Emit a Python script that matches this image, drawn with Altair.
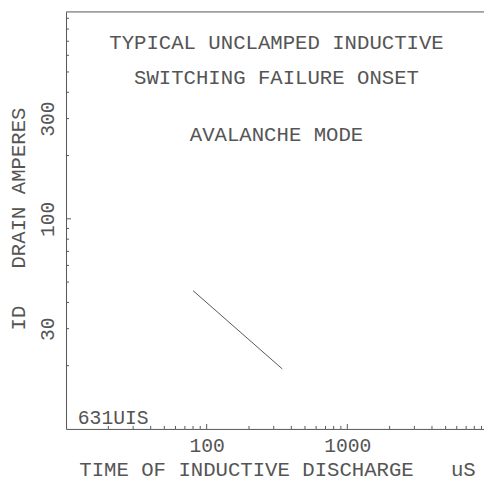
import altair as alt
import pandas as pd

# ---- data ----
time_us = [80, 345]
drain_amps = [45.5, 19.3]

x_minor_ticks = [20, 30, 40, 50, 60, 70, 80, 90,
                 200, 300, 400, 500, 600, 700, 800, 900,
                 2000, 3000, 4000, 5000, 6000, 7000, 8000, 9000]
x_major_ticks = [100, 1000]
y_minor_ticks = [20, 30, 40, 50, 60, 70, 80, 90,
                 200, 300, 400, 500, 600, 700, 800, 900]
y_major_ticks = [100]
x_labels = [100, 1000]
y_labels = [30, 100, 300]

NB = "\u00a0"
title_lines = ["TYPICAL UNCLAMPED INDUCTIVE", "SWITCHING FAILURE ONSET", "AVALANCHE MODE"]
corner_label = "631UIS"
x_title = "TIME OF INDUCTIVE DISCHARGE" + NB * 3 + "uS"
y_title = "ID" + NB * 3 + "DRAIN AMPERES"

FONT = "Liberation Mono"
INK = "#555555"
LINE = "#555555"
W, H = 425, 424

xscale = alt.Scale(type="log", domain=[10, 9376], nice=False)
yscale = alt.Scale(type="log", domain=[10, 965], nice=False)

xaxis = alt.Axis(
    values=x_labels, ticks=False, tickSize=0, grid=False, format="d",
    domainColor=LINE, domainWidth=1,
    labelFont=FONT, labelFontSize=20, labelColor=INK,
    labelBaseline="alphabetic", labelPadding=23,
    title=x_title,
    titleFont=FONT, titleFontSize=21, titleFontWeight="normal", titleColor=INK,
    titleAlign="left", titleBaseline="alphabetic", titleX=13, titleY=47,
)
yaxis = alt.Axis(
    values=y_labels, ticks=False, tickSize=0, grid=False, format="d",
    domainColor=LINE, domainWidth=1,
    labelFont=FONT, labelFontSize=20, labelColor=INK,
    labelAngle=270, labelAlign="center", labelBaseline="alphabetic", labelPadding=13,
    title=y_title,
    titleFont=FONT, titleFontSize=21, titleFontWeight="normal", titleColor=INK,
    titleAngle=270, titleAlign="center", titleBaseline="alphabetic",
    titleX=-42, titleY=210,
)

curve = alt.Chart(pd.DataFrame({"t": time_us, "id": drain_amps})).mark_line(
    color=LINE, strokeWidth=1
).encode(
    x=alt.X("t:Q", scale=xscale, axis=xaxis),
    y=alt.Y("id:Q", scale=yscale, axis=yaxis),
)

xminor = alt.Chart(pd.DataFrame({"t": x_minor_ticks})).mark_rule(color=LINE, strokeWidth=1).encode(
    x=alt.X("t:Q", scale=xscale, axis=xaxis), y=alt.value(H), y2=alt.value(H - 3))
xmajor = alt.Chart(pd.DataFrame({"t": x_major_ticks})).mark_rule(color=LINE, strokeWidth=1).encode(
    x=alt.X("t:Q", scale=xscale, axis=xaxis), y=alt.value(H), y2=alt.value(H - 5))
yminor = alt.Chart(pd.DataFrame({"id": y_minor_ticks})).mark_rule(color=LINE, strokeWidth=1).encode(
    y=alt.Y("id:Q", scale=yscale, axis=yaxis), x=alt.value(0), x2=alt.value(3))
ymajor = alt.Chart(pd.DataFrame({"id": y_major_ticks})).mark_rule(color=LINE, strokeWidth=1).encode(
    y=alt.Y("id:Q", scale=yscale, axis=yaxis), x=alt.value(0), x2=alt.value(5))

top_border = alt.Chart(pd.DataFrame({"a": [0]})).mark_rule(color=LINE, strokeWidth=1).encode(
    x=alt.value(0), x2=alt.value(W), y=alt.value(0))

texts = []
for line, ypos in zip(title_lines, [38, 73.5, 131]):
    texts.append(alt.Chart(pd.DataFrame({"s": [line]})).mark_text(
        font=FONT, fontSize=21, color=INK, align="center", baseline="alphabetic"
    ).encode(text="s:N", x=alt.value(214), y=alt.value(ypos)))
texts.append(alt.Chart(pd.DataFrame({"s": [corner_label]})).mark_text(
    font=FONT, fontSize=20, color=INK, align="left", baseline="alphabetic"
).encode(text="s:N", x=alt.value(12), y=alt.value(418.5)))

chart = alt.layer(curve, xminor, xmajor, yminor, ymajor, top_border, *texts).properties(
    width=W, height=H,
    autosize=alt.AutoSizeParams(type="none"),
    padding={"left": 59, "top": 0, "right": 0, "bottom": 53},
    background="white",
).configure_view(stroke=None)

chart.save("out.html", embed_options={"renderer": "svg", "actions": False})
